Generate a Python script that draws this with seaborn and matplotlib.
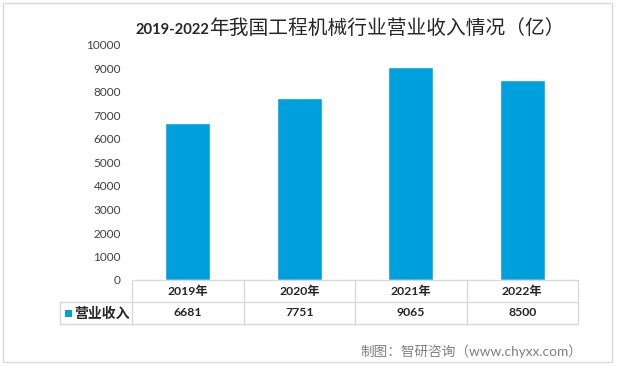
import matplotlib
matplotlib.use('Agg')
import matplotlib.pyplot as plt
import matplotlib.transforms as mtransforms
from matplotlib.patches import Rectangle
import seaborn as sns
import pandas as pd

years = ['2019年', '2020年', '2021年', '2022年']
revenue = [6681, 7751, 9065, 8500]
series_name = '营业收入'
title_num = '2019-2022'
title_rest = '年我国工程机械行业营业收入情况（亿）'
source = '制图：智研咨询（www.chyxx.com）'

bar_color = '#00A0DC'
line_color = '#D9D9D9'
text_color = '#262626'

sns.set_theme(style='white')
plt.rcParams['font.family'] = ['Lato', 'Noto Sans CJK SC', 'DejaVu Sans']

W, H = 617, 366
df = pd.DataFrame({'year': years, 'revenue': revenue})

fig = plt.figure(figsize=(W / 100, H / 100), dpi=100)
ax = fig.add_axes([132 / W, 86 / H, 446 / W, 235 / H])
sns.barplot(data=df, x='year', y='revenue', color=bar_color, width=0.4,
            saturation=1, ax=ax)
ax.set_xlim(-0.5, 3.5)
ax.set_ylim(0, 10000)
ax.set_yticks(range(0, 10001, 1000))
ax.set_xticks([])
ax.set_xlabel('')
ax.set_ylabel('')
for s in ax.spines.values():
    s.set_visible(False)
ax.tick_params(axis='y', length=0, pad=8, labelsize=8.5, labelcolor='#404040')


def py(y):
    # pixel row from the top -> figure fraction
    return 1 - y / H


# data table under the bars (x in data units, y in figure units)
trans = mtransforms.blended_transform_factory(ax.transData, fig.transFigure)
px_per_unit = 446 / 4
x_left = -0.5 - 72 / px_per_unit
n = len(years)
kw = dict(color=line_color, lw=1, transform=trans, clip_on=False)
ax.plot([-0.5, n - 0.5], [py(280), py(280)], **kw)
ax.plot([x_left, n - 0.5], [py(302), py(302)], **kw)
ax.plot([x_left, n - 0.5], [py(324), py(324)], **kw)
ax.plot([x_left, x_left], [py(302), py(324)], **kw)
for i in range(n + 1):
    ax.plot([i - 0.5, i - 0.5], [py(280), py(324)], **kw)

for i, (yr, v) in enumerate(zip(years, revenue)):
    ax.text(i, py(291), yr, transform=trans, ha='center', va='center',
            fontsize=8.8, fontweight='bold', color=text_color)
    ax.text(i, py(313), str(v), transform=trans, ha='center', va='center',
            fontsize=8.8, fontweight='bold', color=text_color)

fig.patches.append(Rectangle((65 / W, py(317)), 7 / W, 7 / H, transform=fig.transFigure,
                             facecolor=bar_color, edgecolor='none'))
fig.text(74 / W, py(313), series_name, ha='left', va='center', fontsize=10,
         fontweight='bold', color=text_color)

# title: bold digits + regular CJK on one baseline
t1 = fig.text(135 / W, py(34), title_num, ha='left', va='baseline', fontsize=10.6,
              fontweight='bold', color=text_color)
fig.canvas.draw()
bb = t1.get_window_extent()
fig.text(bb.x1 / W, py(34), title_rest, ha='left', va='baseline', fontsize=14.2,
         color=text_color)

fig.text(582 / W, py(351), source, ha='right', va='center', fontsize=9.8,
         color='#7F7F7F')

fig.patches.append(Rectangle((3 / W, py(362)), 609 / W, 359 / H, transform=fig.transFigure,
                             fill=False, edgecolor=line_color, lw=1))

fig.savefig('out.png', dpi=100)
